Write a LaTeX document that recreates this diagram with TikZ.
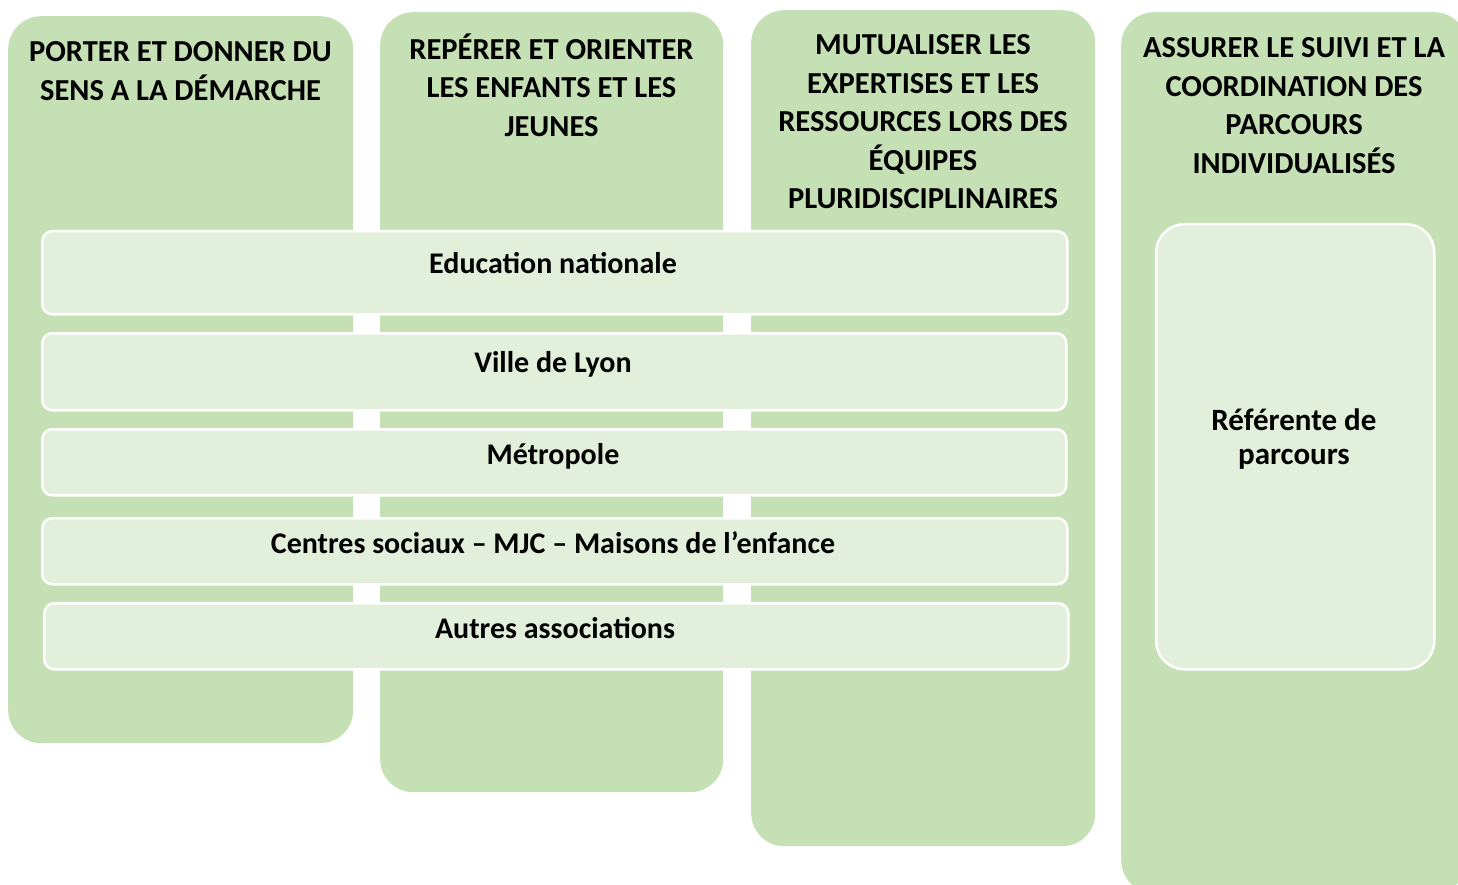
\documentclass[tikz,border=0pt]{standalone}
\usepackage{fontspec}
\setmainfont{Carlito}
\definecolor{colgreen}{HTML}{C5E0B4}
\definecolor{rowgreen}{HTML}{E2EFDA}
\tikzset{
  colbox/.style={fill=colgreen, draw=none, rounded corners=33pt, anchor=north west, inner sep=0pt},
  rowbox/.style={fill=rowgreen, draw=white, line width=2.5pt, rounded corners=10pt, anchor=north west, inner sep=0pt},
  refbox/.style={fill=rowgreen, draw=white, line width=2.5pt, rounded corners=28pt, anchor=north west, inner sep=0pt},
  head/.style={align=center, inner sep=0pt, font=\bfseries\fontsize{30.5}{38.5}\selectfont},
  rowtext/.style={inner sep=0pt, anchor=base, font=\bfseries\fontsize{30}{34}\selectfont},
}
\begin{document}
\begin{tikzpicture}[x=1pt,y=-1pt]
\useasboundingbox (0,0) rectangle (1458,885);
\clip (0,0) rectangle (1458,885);
% columns
\node[colbox, minimum width=345pt, minimum height=727pt] (c1) at (8,16) {};
\node[colbox, minimum width=343pt, minimum height=780pt] (c2) at (380,12) {};
\node[colbox, minimum width=344pt, minimum height=836pt] (c3) at (751,10) {};
\node[colbox, minimum width=346pt, minimum height=881pt] (c4) at (1121,12) {};
% headers
\node[head, anchor=north] (h1) at (180.5,41.5) {PORTER ET DONNER DU\\SENS A LA DÉMARCHE};
\node[head, anchor=north] (h2) at (551.5,33.5) {REPÉRER ET ORIENTER\\LES ENFANTS ET LES\\JEUNES};
\node[head, anchor=north] (h3) at (923,34.5) {MUTUALISER LES\\EXPERTISES ET LES\\RESSOURCES LORS DES\\ÉQUIPES\\PLURIDISCIPLINAIRES};
\node[head, anchor=north] (h4) at (1294,37.5) {ASSURER LE SUIVI ET LA\\COORDINATION DES\\PARCOURS\\INDIVIDUALISÉS};
% rows
\node[rowbox, minimum width=1025pt, minimum height=83pt] (r1) at (41,230) {};
\node[rowbox, minimum width=1024pt, minimum height=77pt] (r2) at (41,332) {};
\node[rowbox, minimum width=1024pt, minimum height=66pt] (r3) at (41,428) {};
\node[rowbox, minimum width=1025pt, minimum height=66pt] (r4) at (41,517) {};
\node[rowbox, minimum width=1024pt, minimum height=66pt] (r5) at (43,602) {};
\node[rowtext] (t1) at (553,273.5) {Education nationale};
\node[rowtext] (t2) at (553,372.5) {Ville de Lyon};
\node[rowtext] (t3) at (553,464.5) {Métropole};
\node[rowtext] (t4) at (553,553.5) {Centres sociaux – MJC – Maisons de l’enfance};
\node[rowtext] (t5) at (555,638.5) {Autres associations};
% referente
\node[refbox, minimum width=278pt, minimum height=445pt] (ref) at (1155,223) {};
\node[align=center, inner sep=0pt, font=\bfseries\fontsize{31}{34}\selectfont] (tref) at (1294,439) {Référente de\\parcours};
\end{tikzpicture}
\end{document}
